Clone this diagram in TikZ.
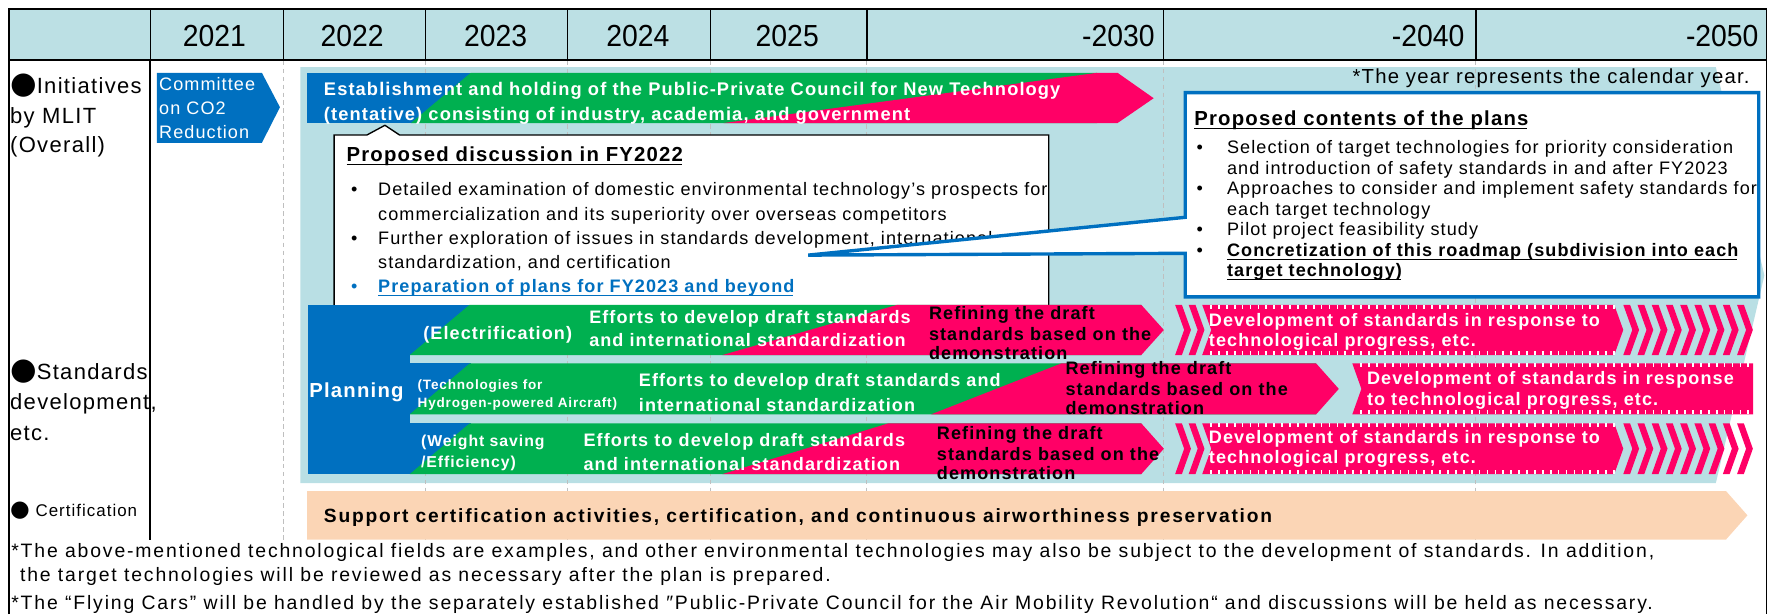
\documentclass[tikz,border=0pt]{standalone}
\usepackage{fontspec}
\setmainfont{Liberation Sans}[LetterSpace=6]
\newfontfamily\hdrfont{Liberation Sans}[FakeStretch=0.93]
\newfontfamily\symf{DejaVu Sans}
\definecolor{hdr}{HTML}{BCE0E4}
\definecolor{panel}{HTML}{B9DFE4}
\definecolor{mblue}{HTML}{0070C0}
\definecolor{mgreen}{HTML}{00B050}
\definecolor{mpink}{HTML}{FF0066}
\definecolor{peach}{HTML}{FBD5B5}
\definecolor{gridc}{HTML}{BFBFBF}
\newcommand\fs[1]{\fontsize{#1}{#1}\selectfont}
\newcommand\chevstripe[3]{\fill[mpink] ({#1},{#2}) -- ({#1+6},{#2}) -- ({#1+14},{(#2+#3)/2}) -- ({#1+6},{#3}) -- ({#1},{#3}) -- ({#1+8},{(#2+#3)/2}) -- cycle;}
\newcommand\tickedges[4]{%
  \draw[white, line width=3.5pt, dash pattern=on 1.5pt off 5.5pt] ({#1},{#3+1.75}) -- ({#2},{#3+1.75});
  \draw[white, line width=3.5pt, dash pattern=on 1.5pt off 5.5pt] ({#1},{#4-1.75}) -- ({#2},{#4-1.75});}
\begin{document}
\begin{tikzpicture}[x=1pt,y=-1pt,
  t/.style={inner sep=0pt, outer sep=0pt, anchor=base west},
  te/.style={inner sep=0pt, outer sep=0pt, anchor=base east},
  hd/.style={inner sep=0pt, font=\hdrfont\fs{27}},
  lab/.style={t, font=\fs{19.5}},
  wb/.style={t, text=white, font=\bfseries\fs{16}},
  bb/.style={t, text=black, font=\bfseries\fs{16}},
  rg/.style={t, font=\fs{16}},
  fn/.style={t, font=\addfontfeatures{LetterSpace=9.5}\fs{17.2}},
  gridl/.style={gridc, line width=0.9pt, dash pattern=on 4pt off 3pt},
  frame/.style={black, line width=1.2pt}]
\useasboundingbox (0,0) rectangle (1568,544);
% header
\fill[hdr] (8,8) rectangle (1565,53);
% panel
\fill[panel] (266,59.5) -- (1520,59.5) -- (1563,244) -- (1520,428) -- (266,428) -- cycle;
% grid
\foreach \x in {251,377,503,629.5,768,1031,1307.5} \draw[gridl] (\x,54) -- (\x,478);
% frame
\draw[frame] (8,544) -- (8,8) -- (1565,8) -- (1565,544);
\foreach \x in {133,251,377,503,629.5,768,1031,1307.5} \draw[line width=1pt] (\x,8) -- (\x,53);
\draw[line width=1.6pt] (8,53) -- (1565,53);
\draw[frame] (133,53) -- (133,478);
% header text
\node[hd, anchor=base] (y21) at (190,41.4) {2021};
\node[hd, anchor=base] (y22) at (312,41.4) {2022};
\node[hd, anchor=base] (y23) at (439,41.4) {2023};
\node[hd, anchor=base] (y24) at (565,41.4) {2024};
\node[hd, anchor=base] (y25) at (697.4,41.4) {2025};
\node[hd, anchor=base east] (y30) at (1023,41.4) {-2030};
\node[hd, anchor=base east] (y40) at (1297.5,41.4) {-2040};
\node[hd, anchor=base east] (y50) at (1558,41.4) {-2050};
% left labels
\node[lab] (l1a) at (9,82.7) {{\symf\fs{27}●}Initiatives};
\node[lab] (l1b) at (9,109.3) {by MLIT};
\node[lab] (l1c) at (9,135.3) {(Overall)};
\node[lab] (l2a) at (9,336.6) {{\symf\fs{27}●}Standards};
\node[lab] (l2b) at (9,363.2) {development,};
\node[lab] (l2c) at (9,390.4) {etc.};
\node[t, font=\fs{15}] (l3) at (9,457.7) {{\symf\fs{20}●} Certification};
% committee
\fill[mblue] (139,64.5) -- (232,64.5) -- (248,95) -- (232,126.5) -- (139,126.5) -- cycle;
\node[t, text=white, font=\fs{16}] (cm1) at (141,80.3) {Committee};
\node[t, text=white, font=\fs{16}] (cm2) at (141,101) {on CO2};
\node[t, text=white, font=\fs{16}] (cm3) at (141,123.1) {Reduction};
% top bar
\fill[mblue] (272,64.5) rectangle (417,109);
\fill[mgreen] (417,64.5) -- (972,64.5) -- (972,109) -- (364,109) -- cycle;
\fill[mpink] (972,64.5) -- (990,64.5) -- (1022,87) -- (990,109) -- (641,109) -- cycle;
\node[wb, font=\bfseries\fs{16.2}] (tb1) at (287,84.2) {Establishment and holding of the Public-Private Council for New Technology};
\node[wb, font=\bfseries\fs{16.2}] (tb2) at (287,106.9) {(tentative) consisting of industry, academia, and government};
% year note
\node[te, font=\fs{18}] (yr) at (1550,74.4) {*The year represents the calendar year.};
% callout 1
\filldraw[fill=white, draw=black, line width=1.2pt] (296,272) -- (296,119.6) -- (325,119.6) -- (341,111) -- (354,119.6) -- (929,119.6) -- (929,272);
\begin{scope}
\clip (296,119.6) rectangle (928.4,272);
\node[t, font=\bfseries\fs{18}] (c1t) at (307,143.2) {Proposed discussion in FY2022};
\draw[line width=1pt] ([yshift=-2.6pt]c1t.base west) -- ([yshift=-2.6pt,xshift=-1pt]c1t.base east);
\node[rg] (c1b1) at (311,173.6) {•};
\node[rg] (c1a1) at (335,173.6) {Detailed examination of domestic environmental technology’s prospects for};
\node[rg] (c1a2) at (335,194.9) {commercialization and its superiority over overseas competitors};
\node[rg] (c1b3) at (311,216.2) {•};
\node[rg] (c1a3) at (335,216.2) {Further exploration of issues in standards development, international};
\node[rg] (c1a4) at (335,237.7) {standardization, and certification};
\node[rg, text=mblue] (c1b5) at (311,259.3) {•};
\node[t, text=mblue, font=\bfseries\fs{16}] (c1a5) at (335,259.3) {Preparation of plans for FY2023 and beyond};
\draw[mblue, line width=1pt] ([yshift=-2.6pt]c1a5.base west) -- ([yshift=-2.6pt,xshift=-1pt]c1a5.base east);
\end{scope}
% callout 2
\filldraw[fill=white, draw=mblue, line width=3pt] (1050,82) -- (1558,82) -- (1558,263) -- (1050,263) -- (1050,224.4) -- (716,226) -- (1050,192.5) -- cycle;
\begin{scope}
\clip (1050,82) rectangle (1556.5,263);
\node[t, font=\bfseries\fs{18}] (c2t) at (1058,111.6) {Proposed contents of the plans};
\draw[line width=1pt] ([yshift=-2.6pt]c2t.base west) -- ([yshift=-2.6pt,xshift=-1pt]c2t.base east);
\node[rg] (c2b1) at (1060,136.4) {•};
\node[rg] (c2a1) at (1087,136.4) {Selection of target technologies for priority consideration};
\node[rg] (c2a2) at (1087,155) {and introduction of safety standards in and after FY2023};
\node[rg] (c2b3) at (1060,172.7) {•};
\node[rg] (c2a3) at (1087,172.7) {Approaches to consider and implement safety standards for};
\node[rg] (c2a4) at (1087,190.5) {each target technology};
\node[rg] (c2b5) at (1060,208.8) {•};
\node[rg] (c2a5) at (1087,208.8) {Pilot project feasibility study};
\node[rg] (c2b6) at (1060,227.4) {•};
\node[t, font=\bfseries\fs{16}] (c2a6) at (1087,227.4) {Concretization of this roadmap (subdivision into each};
\draw[line width=1pt] ([yshift=-2.6pt]c2a6.base west) -- ([yshift=-2.6pt,xshift=-1pt]c2a6.base east);
\node[t, font=\bfseries\fs{16}] (c2a7) at (1087,245.1) {target technology)};
\draw[line width=1pt] ([yshift=-2.6pt]c2a7.base west) -- ([yshift=-2.6pt,xshift=-1pt]c2a7.base east);
\end{scope}
% rows: planning block
\fill[mblue] (273,270) rectangle (417,420);
\fill[panel] (363,314.5) rectangle (420,322);
\fill[panel] (363,367) rectangle (420,375);
% row 1
\fill[mgreen] (416,270) -- (1011,270) -- (1011,314.5) -- (363,314.5) -- cycle;
\fill[mpink] (795,270) -- (1011,270) -- (1031,292.25) -- (1011,314.5) -- (640,314.5) -- cycle;
% row 2
\fill[mgreen] (416,322) -- (1166,322) -- (1166,367) -- (363,367) -- cycle;
\fill[mpink] (940,322) -- (1166,322) -- (1186,344.5) -- (1166,367) -- (825,367) -- cycle;
% row 3
\fill[mgreen] (416,375) -- (1011,375) -- (1011,420) -- (363,420) -- cycle;
\fill[mpink] (787,375) -- (1011,375) -- (1031,397.5) -- (1011,420) -- (640,420) -- cycle;
% hatched bars rows 1 and 3
\foreach \ya/\yb in {270/314.5, 375/420} {
  \chevstripe{1041}{\ya}{\yb}
  \chevstripe{1053}{\ya}{\yb}
  \fill[mpink] (1065,\ya) -- (1430,\ya) -- ({1438},{(\ya+\yb)/2}) -- (1430,\yb) -- (1065,\yb) -- ({1073},{(\ya+\yb)/2}) -- cycle;
  \tickedges{1072}{1432}{\ya}{\yb}
  \foreach \i in {0,...,8} {\chevstripe{1438+12.6*\i}{\ya}{\yb}}
}
% hatched bar row 2
\fill[mpink] (1198,322) -- (1553,322) -- (1553,367) -- (1198,367) -- (1206,344.5) -- cycle;
\tickedges{1205}{1553}{322}{367}
% row texts
\node[wb, font=\bfseries\fs{18}] (plan) at (274,352) {Planning};
\node[wb] (r1l) at (375,300.6) {(Electrification)};
\node[wb] (r1e1) at (522,286.4) {Efforts to develop draft standards};
\node[wb] (r1e2) at (522,307.1) {and international standardization};
\node[bb] (r1r1) at (823,282.9) {Refining the draft};
\node[bb] (r1r2) at (823,301.2) {standards based on the};
\node[bb] (r1r3) at (823,318.3) {demonstration};
\node[wb] (r1d1) at (1071,289.4) {Development of standards in response to};
\node[wb] (r1d2) at (1071,307.1) {technological progress, etc.};
\node[wb, font=\bfseries\fs{12}] (r2l1) at (370,344.7) {(Technologies for};
\node[wb, font=\bfseries\fs{12}] (r2l2) at (370,360.6) {Hydrogen-powered Aircraft)};
\node[wb] (r2e1) at (566,342.5) {Efforts to develop draft standards and};
\node[wb] (r2e2) at (566,364.1) {international standardization};
\node[bb] (r2r1) at (944,331.6) {Refining the draft};
\node[bb] (r2r2) at (944,350) {standards based on the};
\node[bb] (r2r3) at (944,367.6) {demonstration};
\node[wb] (r2d1) at (1211,341) {Development of standards in response};
\node[wb] (r2d2) at (1211,358.8) {to technological progress, etc.};
\node[wb, font=\bfseries\fs{14}] (r3l1) at (373,395.7) {(Weight saving};
\node[wb, font=\bfseries\fs{14}] (r3l2) at (373,414.3) {/Efficiency)};
\node[wb] (r3e1) at (517,395.7) {Efforts to develop draft standards};
\node[wb] (r3e2) at (517,417) {and international standardization};
\node[bb] (r3r1) at (830,389.2) {Refining the draft};
\node[bb] (r3r2) at (830,407.5) {standards based on the};
\node[bb] (r3r3) at (830,425.2) {demonstration};
\node[wb] (r3d1) at (1071,392.7) {Development of standards in response to};
\node[wb] (r3d2) at (1071,410.5) {technological progress, etc.};
% certification bar
\fill[peach] (272,435) -- (1529,435) -- (1548,456.5) -- (1529,478) -- (272,478) -- cycle;
\node[t, font=\bfseries\addfontfeatures{LetterSpace=9.5}\fs{17}] (cert) at (287,463) {Support certification activities, certification, and continuous airworthiness preservation};
% footnotes
\node[fn] (fn1) at (10,493.7) {*The above-mentioned technological fields are examples, and other environmental technologies may also be subject to the development of standards. In addition,};
\node[fn] (fn2) at (17.8,515.3) {the target technologies will be reviewed as necessary after the plan is prepared.};
\node[fn] (fn3) at (10,539.8) {*The “Flying Cars” will be handled by the separately established ″Public-Private Council for the Air Mobility Revolution“ and discussions will be held as necessary.};
\end{tikzpicture}
\end{document}
